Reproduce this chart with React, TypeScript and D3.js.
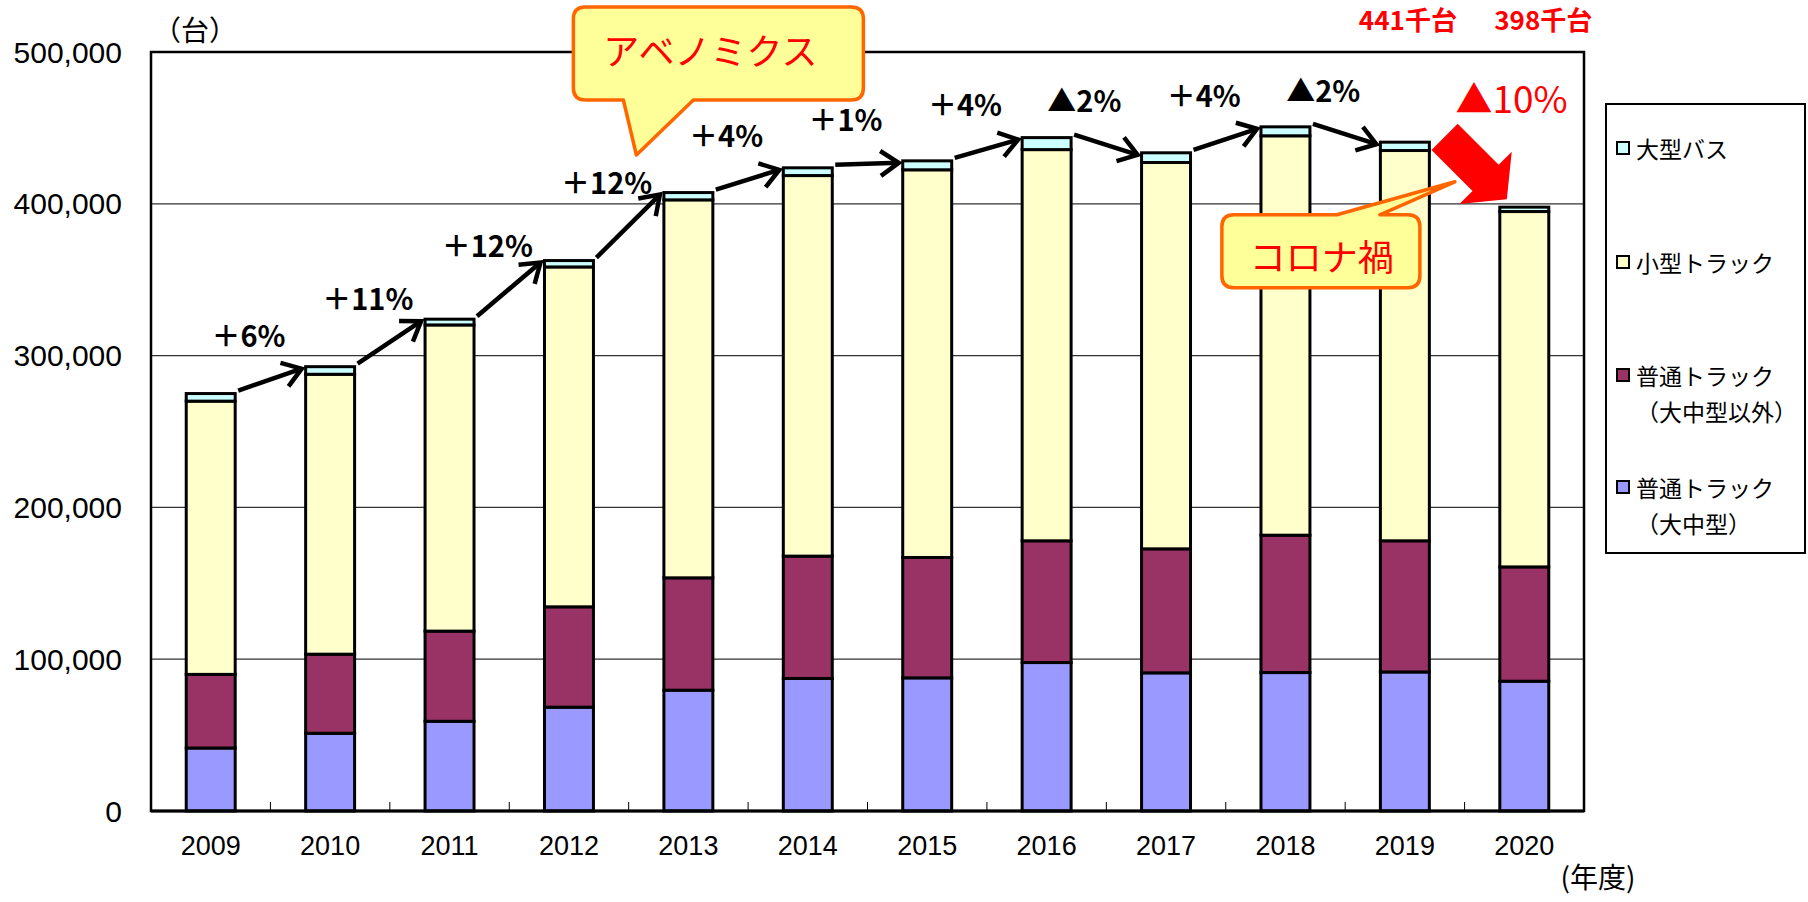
import React from "react";
import * as d3 from "d3";

// 年度別 販売台数（台）
const years = ["2009", "2010", "2011", "2012", "2013", "2014", "2015", "2016", "2017", "2018", "2019", "2020"];
const largeTruck = [41500, 51200, 59100, 68400, 79600, 87300, 87700, 97800, 91000, 91200, 91600, 85500];
const mediumTruck = [48500, 52100, 59400, 66100, 74000, 80600, 79300, 80200, 81700, 90500, 86400, 75300];
const smallTruck = [180000, 184400, 201700, 223900, 249000, 250700, 255400, 257700, 254500, 263100, 257100, 234100];
const largeBus = [5000, 5000, 3800, 4200, 4800, 5100, 5900, 7900, 6400, 5900, 5500, 2900];

const growthLabels = ["＋6%", "＋11%", "＋12%", "＋12%", "＋4%", "＋1%", "＋4%", "▲2%", "＋4%", "▲2%"];
const dropLabel = "▲10%";
const totalLabels = ["441千台", "398千台"];
const yTicks = [0, 100000, 200000, 300000, 400000, 500000];

const keys = ["large", "medium", "small", "bus"];
const colors: Record<string, string> = {
  large: "#9999ff",
  medium: "#993366",
  small: "#ffffcc",
  bus: "#ccffff",
};
// legend is listed top -> bottom
const legendItems = [
  { key: "bus", lines: ["大型バス"] },
  { key: "small", lines: ["小型トラック"] },
  { key: "medium", lines: ["普通トラック", "（大中型以外）"] },
  { key: "large", lines: ["普通トラック", "（大中型）"] },
];

const JP = "'Noto Sans CJK JP', 'Noto Sans', sans-serif";
const NUM = "'Liberation Sans', Arial, sans-serif";

export default function App() {
  const x = d3
    .scaleBand()
    .domain(years)
    .range([151, 1584])
    .paddingInner(0.59)
    .paddingOuter(0.295);
  const y = d3.scaleLinear().domain([0, 500000]).range([811, 52]);

  const rows = years.map((yr, i) => ({
    year: yr,
    large: largeTruck[i],
    medium: mediumTruck[i],
    small: smallTruck[i],
    bus: largeBus[i],
  }));
  const series = d3.stack<any>().keys(keys)(rows);
  const totals = rows.map((r) => r.large + r.medium + r.small + r.bus);

  const bw = x.bandwidth();
  const step = x.step();
  const left = (i: number) => x(years[i]) as number;
  const cx = (i: number) => left(i) + bw / 2;
  const top = (i: number) => y(totals[i]);

  // growth arrows between consecutive bars (up to 2019)
  const arrows = growthLabels.map((label, i) => {
    const sx = left(i) + bw + 3;
    const sy = top(i) - 3;
    const ex = left(i + 1) - 4;
    const ey = top(i + 1) + 2;
    const ang = Math.atan2(ey - sy, ex - sx);
    const len = 22;
    const a1 = ang + Math.PI - 0.6;
    const a2 = ang + Math.PI + 0.6;
    return {
      label,
      sx, sy, ex, ey,
      h1: [ex + len * Math.cos(a1), ey + len * Math.sin(a1)],
      h2: [ex + len * Math.cos(a2), ey + len * Math.sin(a2)],
      lx: (cx(i) + cx(i + 1)) / 2 - 22,
      ly: (top(i) + top(i + 1)) / 2 - 46,
    };
  });

  const last = years.length - 1;
  // big red arrow (tip near the top of the 2020 bar)
  const tipX = left(last) + 7;
  const tipY = top(last) - 8;
  const redArrow = [
    [-88, -18.5], [-30, -18.5], [-30, -37], [0, 0],
    [-30, 37], [-30, 18.5], [-88, 18.5],
  ].map((p) => p.join(",")).join(" ");

  // callouts
  const abeX = cx(4) - 115;
  const abeY = 7;
  const abePath = `M${abeX + 12},${abeY} H${abeX + 278} Q${abeX + 290},${abeY} ${abeX + 290},${abeY + 12}
    V${abeY + 81} Q${abeX + 290},${abeY + 93} ${abeX + 278},${abeY + 93}
    H${abeX + 120} L${abeX + 63},${abeY + 148} L${abeX + 50},${abeY + 93}
    H${abeX + 12} Q${abeX},${abeY + 93} ${abeX},${abeY + 81}
    V${abeY + 12} Q${abeX},${abeY} ${abeX + 12},${abeY} Z`;

  const coX = cx(last - 1) - 183;
  const coY = y(400000) + 11;
  const coTipX = left(last) - 45;
  const coTipY = coY - 33;
  const coPath = `M${coX + 12},${coY} H${coX + 115} L${coTipX},${coTipY} L${coX + 158},${coY}
    H${coX + 186} Q${coX + 198},${coY} ${coX + 198},${coY + 12}
    V${coY + 61} Q${coX + 198},${coY + 73} ${coX + 186},${coY + 73}
    H${coX + 12} Q${coX},${coY + 73} ${coX},${coY + 61}
    V${coY + 12} Q${coX},${coY} ${coX + 12},${coY} Z`;

  const fmt = d3.format(",");
  const [x0, x1] = x.range();
  const [y0, y1] = y.range();

  return (
    <svg
      width={1808}
      height={902}
      style={{ position: "absolute", left: 0, top: 0, background: "#fff" }}
    >
      <rect x={0} y={0} width={1808} height={902} fill="#fff" />

      {/* grid */}
      {yTicks.slice(1, -1).map((t) => (
        <line key={t} x1={x0} x2={x1} y1={y(t)} y2={y(t)} stroke="#333" strokeWidth={1.2} />
      ))}

      {/* bars */}
      {series.map((s) =>
        s.map((d, i) => (
          <rect
            key={s.key + i}
            x={left(i)}
            y={y(d[1])}
            width={bw}
            height={y(d[0]) - y(d[1])}
            fill={colors[s.key]}
            stroke="#000"
            strokeWidth={3}
          />
        ))
      )}

      {/* plot frame */}
      <rect x={x0} y={y1} width={x1 - x0} height={y0 - y1} fill="none" stroke="#000" strokeWidth={2.5} />
      <line x1={x0} x2={x1} y1={y0} y2={y0} stroke="#000" strokeWidth={3} />
      {years.slice(1).map((yr, i) => (
        <line key={yr} x1={x0 + step * (i + 1)} x2={x0 + step * (i + 1)} y1={y0} y2={y0 - 9} stroke="#000" strokeWidth={1} />
      ))}

      {/* y axis labels */}
      {yTicks.map((t) => (
        <text key={t} x={122} y={y(t)} textAnchor="end" dominantBaseline="central" fontFamily={NUM} fontSize={30} fill="#000">
          {fmt(t)}
        </text>
      ))}
      <text x={195} y={29} textAnchor="middle" dominantBaseline="central" fontFamily={JP} fontSize={28}>（台）</text>

      {/* x axis labels */}
      {years.map((yr, i) => (
        <text key={yr} x={cx(i)} y={846} textAnchor="middle" dominantBaseline="central" fontFamily={NUM} fontSize={27}>
          {yr}
        </text>
      ))}
      <text x={1598} y={876} textAnchor="middle" dominantBaseline="central" fontFamily={JP} fontSize={28}>(年度)</text>

      {/* growth arrows */}
      {arrows.map((a, i) => (
        <g key={i}>
          <line x1={a.sx} y1={a.sy} x2={a.ex} y2={a.ey} stroke="#000" strokeWidth={4.5} />
          <polyline
            points={`${a.h1[0]},${a.h1[1]} ${a.ex},${a.ey} ${a.h2[0]},${a.h2[1]}`}
            fill="none"
            stroke="#000"
            strokeWidth={4.5}
          />
          <text x={a.lx} y={a.ly} textAnchor="middle" dominantBaseline="central" fontFamily={JP} fontWeight="bold" fontSize={29}>
            {a.label}
          </text>
        </g>
      ))}

      {/* 2020 drop */}
      <polygon points={redArrow} transform={`translate(${tipX},${tipY}) rotate(45)`} fill="#ff0000" />
      <text x={(cx(last - 1) + cx(last)) / 2 + 47} y={top(last - 1) - 45} textAnchor="middle" dominantBaseline="central" fontFamily={JP} fontSize={37} fill="#ff0000">
        {dropLabel}
      </text>
      <text x={cx(last - 1) + 3} y={18} textAnchor="middle" dominantBaseline="central" fontFamily={JP} fontWeight="bold" fontSize={26} fill="#ff0000">
        {totalLabels[0]}
      </text>
      <text x={cx(last) + 19} y={18} textAnchor="middle" dominantBaseline="central" fontFamily={JP} fontWeight="bold" fontSize={26} fill="#ff0000">
        {totalLabels[1]}
      </text>

      {/* callouts */}
      <path d={abePath} fill="#ffff99" stroke="#ff6600" strokeWidth={3.5} strokeLinejoin="round" />
      <text x={abeX + 137} y={abeY + 42} textAnchor="middle" dominantBaseline="central" fontFamily={JP} fontSize={36} fill="#ff0000">
        アベノミクス
      </text>
      <path d={coPath} fill="#ffff99" stroke="#ff6600" strokeWidth={3.5} strokeLinejoin="round" />
      <text x={coX + 100} y={coY + 40} textAnchor="middle" dominantBaseline="central" fontFamily={JP} fontSize={36} fill="#ff0000">
        コロナ禍
      </text>

      {/* legend */}
      <rect x={1606} y={104} width={199} height={449} fill="#fff" stroke="#000" strokeWidth={2} />
      {legendItems.map((it, k) => {
        const ly = [148, 262, 375, 487][k];
        return (
          <g key={it.key}>
            <rect x={1617} y={ly - 6} width={12} height={12} fill={colors[it.key]} stroke="#000" strokeWidth={2} />
            {it.lines.map((ln, j) => (
              <text key={j} x={1636} y={ly + j * 36} dominantBaseline="central" fontFamily={JP} fontSize={23} fill="#000">
                {ln}
              </text>
            ))}
          </g>
        );
      })}
    </svg>
  );
}
